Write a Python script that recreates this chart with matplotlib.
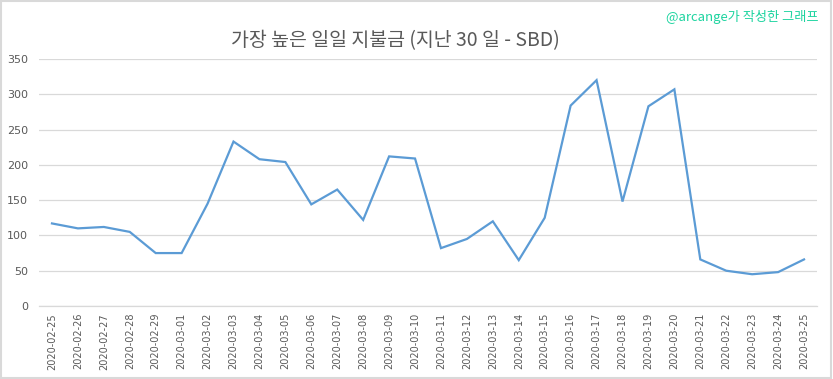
import matplotlib.pyplot as plt
from matplotlib.patches import Rectangle

plt.rcParams['font.family'] = ['Noto Sans CJK KR', 'DejaVu Sans']

dates = ["2020-02-25", "2020-02-26", "2020-02-27", "2020-02-28", "2020-02-29",
         "2020-03-01", "2020-03-02", "2020-03-03", "2020-03-04", "2020-03-05",
         "2020-03-06", "2020-03-07", "2020-03-08", "2020-03-09", "2020-03-10",
         "2020-03-11", "2020-03-12", "2020-03-13", "2020-03-14", "2020-03-15",
         "2020-03-16", "2020-03-17", "2020-03-18", "2020-03-19", "2020-03-20",
         "2020-03-21", "2020-03-22", "2020-03-23", "2020-03-24", "2020-03-25"]
payouts = [117, 110, 112, 105, 75, 75, 145, 233, 208, 204,
           144, 165, 122, 212, 209, 82, 95, 120, 65, 125,
           284, 320, 148, 283, 307, 66, 50, 45, 48, 66]
yticks = [0, 50, 100, 150, 200, 250, 300, 350]

title = "가장 높은 일일 지불금 (지난 30 일 - SBD)"
credit = "@arcange가 작성한 그래프"

grey = "#595959"
grid = "#d9d9d9"

fig = plt.figure(figsize=(8.33, 3.79), dpi=100)
ax = fig.add_axes([39 / 833, 1 - 306 / 379, (817 - 39) / 833, (306 - 59) / 379])

x = list(range(len(dates)))
ax.plot(x, payouts, color="#5b9bd5", linewidth=1.6, solid_joinstyle="miter")

ax.set_xlim(-0.5, len(dates) - 0.5)
ax.set_ylim(0, 350)
ax.set_yticks(yticks)
ax.set_xticks(x)
ax.set_xticklabels(dates, rotation=90, fontsize=7, color=grey, family=['DejaVu Sans'])
ax.tick_params(axis='y', labelsize=8, labelcolor=grey, length=0, pad=8)
ax.tick_params(axis='x', length=0, pad=5)
for lab in ax.get_yticklabels():
    lab.set_family(['DejaVu Sans'])

ax.grid(axis='y', color=grid, linewidth=0.9)
ax.set_axisbelow(True)
for side in ["top", "right", "left"]:
    ax.spines[side].set_visible(False)
ax.spines["bottom"].set_color(grid)
ax.spines["bottom"].set_linewidth(0.9)

fig.text(395 / 833, 1 - 41 / 379, title, ha="center", va="center", fontsize=14,
         fontweight="light", color=grey)
fig.text(818 / 833, 1 - 17 / 379, credit, ha="right", va="center", fontsize=9.5, color="#1ed4a0")

fig.patches.append(Rectangle((0.001, 0.002), 0.997, 0.995, transform=fig.transFigure,
                             fill=False, edgecolor=grid, linewidth=1.5))

fig.savefig("out.png", dpi=100)
